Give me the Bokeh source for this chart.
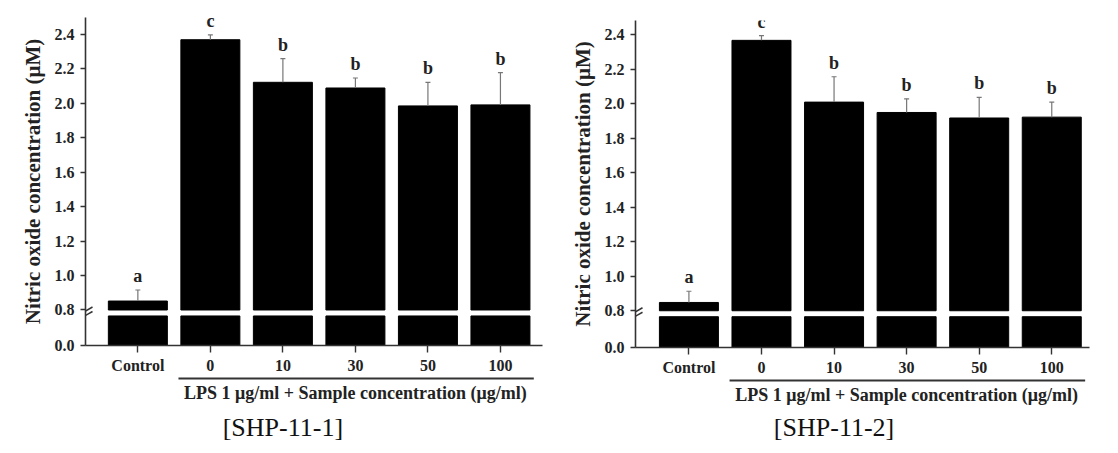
from bokeh.plotting import figure
from bokeh.layouts import row, column
from bokeh.models import Range1d, FixedTicker, ColumnDataSource
from bokeh.core.properties import value
from bokeh.embed import file_html
from bokeh.resources import INLINE

# ---------------- data ----------------
categories = ["Control", "0", "10", "30", "50", "100"]
letters = ["a", "c", "b", "b", "b", "b"]
shp1_mean = [0.852, 2.368, 2.121, 2.088, 1.984, 1.990]
shp1_err = [0.064, 0.028, 0.137, 0.058, 0.137, 0.187]
shp2_mean = [0.848, 2.367, 2.009, 1.949, 1.917, 1.922]
shp2_err = [0.065, 0.027, 0.147, 0.079, 0.120, 0.087]
ytick_values = [0.8, 1.0, 1.2, 1.4, 1.6, 1.8, 2.0, 2.2, 2.4]
ytick_labels = ["0.8", "1.0", "1.2", "1.4", "1.6", "1.8", "2.0", "2.2", "2.4"]
zero_label = "0.0"
captions = ["[SHP-11-1]", "[SHP-11-2]"]
ylabel = "Nitric oxide concentration (\u03bcM)"
xgroup_label = "LPS 1 \u03bcg/ml + Sample concentration (\u03bcg/ml)"
lps_span = (0.56, 5.46)   # categories covered by the LPS bracket line

BREAK_VALUE = 0.8      # axis resumes here
SERIF = "Liberation Serif"
TXT = "#222222"
AX = "#333333"
TOTAL_H = 453


def panel(mean, err, caption, width, top_h, mb_left, mb_right, mb_top, mb_bottom,
          x_start, x_end, y_zero, y_end):
    frame_h = top_h - mb_top - mb_bottom
    ppu = frame_h / (y_end - y_zero)          # pixels per y unit
    ppc = (width - mb_left - mb_right) / (x_end - x_start)  # pixels per category
    gap_top = BREAK_VALUE - 6 / ppu           # top of lower bar segment
    xr = Range1d(x_start, x_end)

    p = figure(width=width, height=top_h, output_backend="svg", toolbar_location=None,
               x_range=xr, y_range=Range1d(y_zero, y_end),
               min_border_left=mb_left, min_border_right=mb_right,
               min_border_top=mb_top, min_border_bottom=mb_bottom)
    p.outline_line_color = None
    p.grid.visible = False

    xs = list(range(len(categories)))
    src = ColumnDataSource(dict(
        x=xs, top=mean, err_top=[m + e for m, e in zip(mean, err)],
        lo=[y_zero] * len(xs), gap=[gap_top] * len(xs), brk=[BREAK_VALUE] * len(xs),
        cl=[x - 2.5 / ppc for x in xs], cr=[x + 2.5 / ppc for x in xs],
        letter=letters))

    bw = 59 / ppc
    p.vbar(x="x", bottom="brk", top="top", width=bw, source=src,
           fill_color="black", line_color="black")
    p.vbar(x="x", bottom="lo", top="gap", width=bw, source=src,
           fill_color="black", line_color="black")
    p.segment(x0="x", y0="top", x1="x", y1="err_top", source=src,
              line_color="#777777", line_width=1.2)
    p.segment(x0="cl", y0="err_top", x1="cr", y1="err_top", source=src,
              line_color="#777777", line_width=1.2)
    p.text(x="x", y="err_top", text="letter", source=src, y_offset=-14,
           text_align="center", text_baseline="middle",
           text_font=value(SERIF), text_font_style="bold",
           text_font_size="18px", text_color=TXT)

    # axes
    p.xaxis.ticker = FixedTicker(ticks=xs)
    p.xaxis.major_label_overrides = {i: c for i, c in enumerate(categories)}
    p.yaxis.ticker = FixedTicker(ticks=[y_zero] + ytick_values)
    ov = {y_zero: zero_label}
    ov.update({v: l for v, l in zip(ytick_values, ytick_labels)})
    p.yaxis.major_label_overrides = ov
    for ax in (p.xaxis, p.yaxis):
        ax.axis_line_color = AX
        ax.axis_line_width = 1.6
        ax.major_tick_line_color = AX
        ax.major_tick_line_width = 1.4
        ax.major_tick_in = 0
        ax.minor_tick_line_color = None
        ax.major_label_text_font = SERIF
        ax.major_label_text_font_style = "bold"
        ax.major_label_text_font_size = "16px"
        ax.major_label_text_color = TXT
    p.xaxis.major_tick_out = 7
    p.xaxis.major_label_standoff = 4
    p.yaxis.major_tick_out = 5
    p.yaxis.major_label_standoff = 6
    p.yaxis.axis_label = ylabel
    p.yaxis.axis_label_text_font = SERIF
    p.yaxis.axis_label_text_font_style = "bold"
    p.yaxis.axis_label_text_font_size = "21px"
    p.yaxis.axis_label_text_color = TXT
    p.yaxis.axis_label_standoff = 7

    # axis break marks
    bx0, bx1, by0, by1 = [], [], [], []
    for yc in (gap_top + 0.5 / ppu, BREAK_VALUE - 1 / ppu):
        bx0.append(x_start - 7 / ppc); bx1.append(x_start + 7 / ppc)
        by0.append(yc - 4 / ppu); by1.append(yc + 4 / ppu)
    p.segment(x0=bx0, y0=by0, x1=bx1, y1=by1, line_color=AX, line_width=1.5)

    # lower strip: bracket line, group label, caption (y in pixels from bottom)
    low_h = TOTAL_H - top_h
    q = figure(width=width, height=low_h, output_backend="svg", toolbar_location=None,
               x_range=xr, y_range=Range1d(0, low_h),
               min_border_left=mb_left, min_border_right=mb_right,
               min_border_top=0, min_border_bottom=0,
               x_axis_location=None, y_axis_location=None)
    q.outline_line_color = None
    q.grid.visible = False
    line_y = low_h - 2
    q.segment(x0=[lps_span[0]], y0=[line_y], x1=[lps_span[1]], y1=[line_y],
              line_color=AX, line_width=2)
    q.text(x=[3], y=[line_y - 14], text=[xgroup_label], text_align="center",
           text_baseline="middle", text_font=value(SERIF), text_font_style="bold",
           text_font_size="18px", text_color=TXT)
    q.text(x=[2], y=[TOTAL_H - 427], text=[caption], text_align="center",
           text_baseline="middle", text_font=value(SERIF),
           text_font_size="26px", text_color="#111111")
    return column(p, q)


c1 = panel(shp1_mean, shp1_err, captions[0], 560, 376, 85, 18, 17, 29,
           -0.722, 5.58, 0.594, 2.497)
c2 = panel(shp2_mean, shp2_err, captions[1], 558, 378, 75, 29, 20, 29,
           -0.736, 5.52, 0.587, 2.482)

layout = row(c1, c2)
open("out.html", "w").write(file_html(layout, INLINE))
